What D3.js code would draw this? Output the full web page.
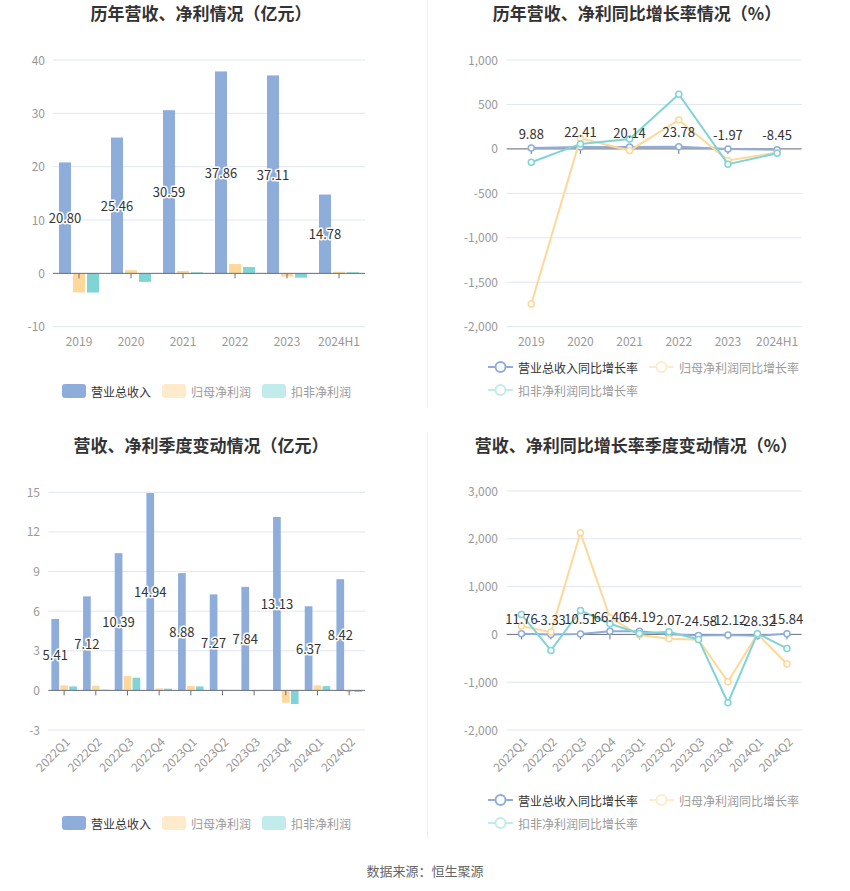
<!DOCTYPE html>
<html><head><meta charset="utf-8">
<script src="https://cdn.jsdelivr.net/npm/d3@7"></script>
<style>
body{margin:0;background:#fff;}
svg{display:block;font-family:"Microsoft YaHei","Noto Sans CJK SC","Noto Sans",sans-serif;}
</style></head>
<body><svg id="c" width="850" height="891"></svg>
<script>
const years = ['2019','2020','2021','2022','2023','2024H1'];
const annualRevenue = [20.80,25.46,30.59,37.86,37.11,14.78];
const annualNetProfit = [-3.56,0.6,0.45,1.75,-0.6,0.3];
const annualDeductedProfit = [-3.6,-1.6,0.2,1.2,-0.8,0.2];
const annualRevenueGrowth = [9.88,22.41,20.14,23.78,-1.97,-8.45];
const annualNetProfitGrowth = [-1744,120,-19,326,-131,-41];
const annualDeductedGrowth = [-150,56,112,615,-172,-49];

const quarters = ['2022Q1','2022Q2','2022Q3','2022Q4','2023Q1','2023Q2','2023Q3','2023Q4','2024Q1','2024Q2'];
const quarterRevenue = [5.41,7.12,10.39,14.94,8.88,7.27,7.84,13.13,6.37,8.42];
const quarterNetProfit = [0.38,0.35,1.08,0.15,0.33,0.05,-0.07,-0.93,0.38,-0.13];
const quarterDeductedProfit = [0.3,0.05,0.96,0.13,0.3,0.03,0.03,-1.03,0.32,-0.12];
const quarterRevenueGrowth = [11.76,-3.33,10.51,66.40,64.19,2.07,-24.58,-12.12,-28.32,15.84];
const quarterNetProfitGrowth = [174,48,2127,350,-15,-90,-110,-990,10,-620];
const quarterDeductedGrowth = [418,-335,502,224,20,56,-105,-1430,15,-293];

const barTicks1 = [-10,0,10,20,30,40];
const lineTicks1 = [-2000,-1500,-1000,-500,0,500,1000];
const barTicks2 = [-3,0,3,6,9,12,15];
const lineTicks2 = [-2000,-1000,0,1000,2000,3000];

const barSeriesNames = ['营业总收入','归母净利润','扣非净利润'];
const lineSeriesNames = ['营业总收入同比增长率','归母净利润同比增长率','扣非净利润同比增长率'];
const colors = ['#8EADDB','#FFD899','#80D4D6'];
const legendIconColors = ['#8EADDB','#FFEBCC','#C2EBEB'];
const legendTextColors = ['#333','#999','#999'];

const svg = d3.select('#c');
const fmtNum = v => d3.format(',')(v).replace('\u2212','-');

// separators
svg.append('line').attr('x1',427.5).attr('x2',427.5).attr('y1',0).attr('y2',408).attr('stroke','#eee');
svg.append('line').attr('x1',427.5).attr('x2',427.5).attr('y1',432).attr('y2',838).attr('stroke','#eee');

function title(text,cx,cy){
  svg.append('text').attr('x',cx).attr('y',cy).attr('text-anchor','middle').attr('dominant-baseline','central')
    .attr('font-size',17).attr('font-weight','bold').attr('fill','#333').text(text);
}
title('历年营收、净利情况（亿元）',201,12);
title('历年营收、净利同比增长率情况（%）',637,12);
title('营收、净利季度变动情况（亿元）',201,444);
title('营收、净利同比增长率季度变动情况（%）',636,444);

svg.append('text').attr('x',425).attr('y',870).attr('text-anchor','middle').attr('dominant-baseline','central')
  .attr('font-size',13).attr('fill','#666').text('数据来源：恒生聚源');

function yAxis(y,ticks,x0,x1,labelX,fmt){
  const g=svg.append('g');
  ticks.forEach(t=>{
    g.append('line').attr('x1',x0).attr('x2',x1).attr('y1',y(t)).attr('y2',y(t)).attr('stroke','#E0E6F1');
    g.append('text').attr('x',labelX).attr('y',y(t)-1).attr('text-anchor','end').attr('dominant-baseline','central')
      .attr('font-size',12).attr('fill','#999').text(fmt(t));
  });
}
function zeroAxis(x,y,cats,x0,x1){
  svg.append('line').attr('x1',x0).attr('x2',x1).attr('y1',y(0)).attr('y2',y(0)).attr('stroke','#6E7079');
  cats.forEach(c=>{
    const cx=x(c)+x.bandwidth()/2;
    svg.append('line').attr('x1',cx).attr('x2',cx).attr('y1',y(0)).attr('y2',y(0)+5).attr('stroke','#6E7079');
  });
}
function xLabels(x,cats,yPos,rotate){
  cats.forEach(c=>{
    const cx=x(c)+x.bandwidth()/2;
    if(!rotate){
      svg.append('text').attr('x',cx).attr('y',yPos).attr('text-anchor','middle').attr('dominant-baseline','central')
        .attr('font-size',12).attr('fill','#999').text(c);
    } else {
      svg.append('text').attr('transform',`translate(${cx+3},${yPos}) rotate(-45)`).attr('text-anchor','end')
        .attr('dominant-baseline','central').attr('font-size',12).attr('fill','#999').text(c);
    }
  });
}

function barChart(opts){
  const {cats,series,x0,x1,yTop,yBot,dom,ticks,labelX,barW,gap,xLabelY,rotate,legendY}=opts;
  const x=d3.scaleBand().domain(cats).range([x0,x1]);
  const y=d3.scaleLinear().domain(dom).range([yBot,yTop]);
  yAxis(y,ticks,x0,x1,labelX,d=>String(d));
  const groupW=barW*3+gap*2;
  series.forEach((s,si)=>{
    svg.append('g').selectAll('rect').data(s).join('rect')
      .attr('x',(d,i)=>x(cats[i])+x.bandwidth()/2-groupW/2+si*(barW+gap))
      .attr('width',barW)
      .attr('y',d=>Math.min(y(d),y(0)))
      .attr('height',d=>Math.abs(y(d)-y(0)))
      .attr('fill',colors[si]);
  });
  zeroAxis(x,y,cats,x0,x1);
  xLabels(x,cats,xLabelY,rotate);
  series[0].forEach((d,i)=>{
    const cx=x(cats[i])+x.bandwidth()/2-groupW/2+barW/2;
    svg.append('text').attr('x',cx).attr('y',(y(d)+y(0))/2).attr('text-anchor','middle').attr('dominant-baseline','central')
      .attr('font-size',13).attr('fill','#333').attr('stroke','#fff').attr('stroke-width',3).attr('paint-order','stroke')
      .attr('stroke-linejoin','round').text(d.toFixed(2));
  });
  [62,162,262].forEach((lx,i)=>{
    svg.append('rect').attr('x',lx).attr('y',legendY-7).attr('width',24).attr('height',14).attr('rx',3).attr('fill',legendIconColors[i]);
    svg.append('text').attr('x',lx+29).attr('y',legendY).attr('dominant-baseline','central').attr('font-size',12)
      .attr('fill',legendTextColors[i]).text(barSeriesNames[i]);
  });
}

function lineChart(opts){
  const {cats,series,x0,x1,yTop,yBot,dom,ticks,labelX,xLabelY,rotate,legendY}=opts;
  const x=d3.scaleBand().domain(cats).range([x0,x1]);
  const y=d3.scaleLinear().domain(dom).range([yBot,yTop]);
  yAxis(y,ticks,x0,x1,labelX,fmtNum);
  zeroAxis(x,y,cats,x0,x1);
  xLabels(x,cats,xLabelY,rotate);
  const cx=c=>x(c)+x.bandwidth()/2;
  series.forEach((s,si)=>{
    const line=d3.line().x((d,i)=>cx(cats[i])).y(d=>y(d));
    svg.append('path').datum(s).attr('d',line).attr('fill','none').attr('stroke',colors[si]).attr('stroke-width',2);
    svg.append('g').selectAll('circle').data(s).join('circle')
      .attr('cx',(d,i)=>cx(cats[i])).attr('cy',d=>y(d)).attr('r',3).attr('fill','#fff')
      .attr('stroke',colors[si]).attr('stroke-width',1.5);
  });
  series[0].forEach((d,i)=>{
    svg.append('text').attr('x',cx(cats[i])).attr('y',y(d)-15).attr('text-anchor','middle').attr('dominant-baseline','central')
      .attr('font-size',13).attr('fill','#333').text(d.toFixed(2));
  });
  const pos=[[488,legendY],[649,legendY],[488,legendY+23]];
  pos.forEach(([lx,ly],i)=>{
    svg.append('line').attr('x1',lx).attr('x2',lx+25).attr('y1',ly).attr('y2',ly).attr('stroke',legendIconColors[i]).attr('stroke-width',2);
    svg.append('circle').attr('cx',lx+12.5).attr('cy',ly).attr('r',5).attr('fill','#fff').attr('stroke',legendIconColors[i]).attr('stroke-width',2);
    svg.append('text').attr('x',lx+30).attr('y',ly).attr('dominant-baseline','central').attr('font-size',12)
      .attr('fill',legendTextColors[i]).text(lineSeriesNames[i]);
  });
}

barChart({cats:years,series:[annualRevenue,annualNetProfit,annualDeductedProfit],x0:53,x1:365,yTop:60,yBot:326.7,
  dom:[-10,40],ticks:barTicks1,labelX:45,barW:12,gap:2,xLabelY:340,rotate:false,legendY:391});
lineChart({cats:years,series:[annualRevenueGrowth,annualNetProfitGrowth,annualDeductedGrowth],x0:506.7,x1:801.7,yTop:60,yBot:326.7,
  dom:[-2000,1000],ticks:lineTicks1,labelX:498,xLabelY:340,rotate:false,legendY:367});
barChart({cats:quarters,series:[quarterRevenue,quarterNetProfit,quarterDeductedProfit],x0:48.3,x1:365,yTop:492.3,yBot:730,
  dom:[-3,15],ticks:barTicks2,labelX:40,barW:7.7,gap:1.2,xLabelY:739,rotate:true,legendY:823});
lineChart({cats:quarters,series:[quarterRevenueGrowth,quarterNetProfitGrowth,quarterDeductedGrowth],x0:506.7,x1:801.7,yTop:491,yBot:730,
  dom:[-2000,3000],ticks:lineTicks2,labelX:498,xLabelY:739,rotate:true,legendY:800});
</script></body></html>
